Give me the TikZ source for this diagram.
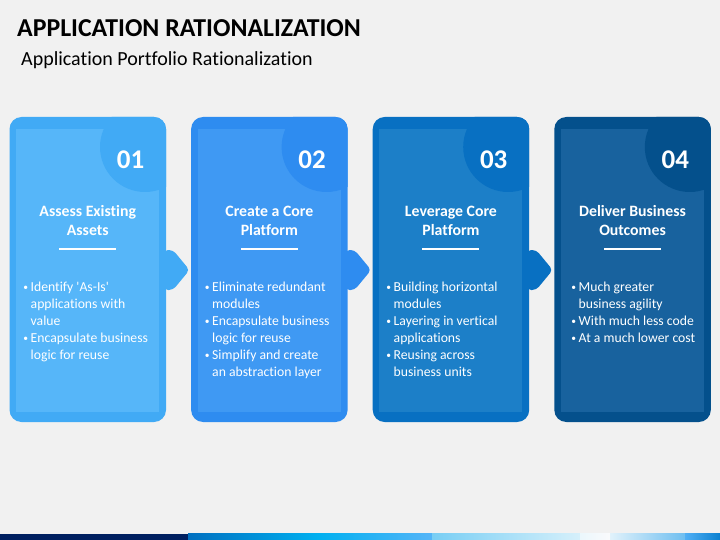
\documentclass[tikz,border=0pt]{standalone}
\usepackage{fontspec}
\setmainfont{Carlito}[Ligatures={TeX,NoCommon}]
\definecolor{bg}{HTML}{F1F1F1}
\definecolor{oA}{RGB}{65,170,245}\definecolor{iA}{RGB}{86,182,249}
\definecolor{oB}{RGB}{46,140,240}\definecolor{iB}{RGB}{63,153,243}
\definecolor{oC}{RGB}{8,112,194}\definecolor{iC}{RGB}{28,127,200}
\definecolor{oD}{RGB}{4,80,140}\definecolor{iD}{RGB}{24,98,158}
\definecolor{navy}{HTML}{002060}
\newcommand{\bu}{\llap{\raisebox{0.8pt}{\fontsize{9.5}{9.5}\selectfont\textbullet}\hspace{2.5pt}}}
\tikzset{
  numtext/.style={text=white,font=\bfseries\fontsize{27}{27}\selectfont,inner sep=0pt},
  headtext/.style={text=white,font=\bfseries\fontsize{15.8}{19}\selectfont,align=center,inner sep=0pt},
  bodytext/.style={text=white,font=\fontsize{13.7}{17}\selectfont,align=left,inner sep=0pt,anchor=north west},
  rule/.style={white,line width=1.4pt}
}
\begin{document}
\begin{tikzpicture}[x=1pt,y=-1pt]
\useasboundingbox (0,0) rectangle (720,540);
\fill[bg] (0,0) rectangle (720,540);
% title
\node[anchor=base west,inner sep=0pt,font=\bfseries\fontsize{25.8}{26}\selectfont] (title) at (17,37) {APPLICATION RATIONALIZATION};
\node[anchor=base west,inner sep=0pt,font=\fontsize{20}{22}\selectfont] (subtitle) at (21,66) {Application Portfolio Rationalization};
% cards
\foreach \i/\o/\n in {0/oA/iA,1/oB/iB,2/oC/iC,3/oD/iD}{
  \pgfmathsetmacro{\L}{9.5+181.6*\i}
  \pgfmathsetmacro{\R}{\L+156.5}
  \fill[\o,rounded corners=12pt] (\L,117) rectangle (\R,422);
  \fill[\n] (\L+6.7,129) rectangle (\R-7,412);
  \begin{scope}
    \clip[rounded corners=12pt] (\L,117) rectangle (\R,422);
    \fill[\o] (\R-21,147) circle (45);
  \end{scope}
  \ifnum\i<3
    \fill[\o,rounded corners=4pt] (\R-2,250) -- (\R+7,250) -- (\R+23.5,270) -- (\R+7,290) -- (\R-2,290) -- cycle;
  \fi
  \draw[rule] (\L+78.25-28.5,249) -- (\L+78.25+28.5,249);
}
% numbers
\node[numtext] (n1) at (130.5,160) {01};
\node[numtext] (n2) at (312.1,160) {02};
\node[numtext] (n3) at (493.7,160) {03};
\node[numtext] (n4) at (675.3,160) {04};
% headings
\node[headtext] (h1) at (87.75,221) {Assess Existing\\Assets};
\node[headtext] (h2) at (269.35,221) {Create a Core\\Platform};
\node[headtext] (h3) at (450.95,221) {Leverage Core\\Platform};
\node[headtext] (h4) at (632.55,221) {Deliver Business\\Outcomes};
% bodies
\node[bodytext] (b1) at (30.5,281.5) {\bu Identify \textquotesingle As-Is\textquotesingle\\applications with\\value\\\bu Encapsulate business\\logic for reuse};
\node[bodytext] (b2) at (212,281.5) {\bu Eliminate redundant\\modules\\\bu Encapsulate business\\logic for reuse\\\bu Simplify and create\\an abstraction layer};
\node[bodytext] (b3) at (393.5,281.5) {\bu Building horizontal\\modules\\\bu Layering in vertical\\applications\\\bu Reusing across\\business units};
\node[bodytext] (b4) at (578.5,281.5) {\bu Much greater\\business agility\\\bu With much less code\\\bu At a much lower cost};
% bottom bar
\fill[navy] (0,533.5) rectangle (188,540);
\shade[left color={rgb,255:red,0;green,112;blue,192},right color={rgb,255:red,0;green,176;blue,240}] (188,533.5) rectangle (318,540);
\shade[left color={rgb,255:red,0;green,176;blue,240},right color={rgb,255:red,85;green,181;blue,248}] (318,533.5) rectangle (432,540);
\shade[left color={rgb,255:red,120;green,206;blue,244},right color={rgb,255:red,214;green,240;blue,251}] (432,533.5) rectangle (580,540);
\shade[left color={rgb,255:red,235;green,247;blue,252},right color={rgb,255:red,250;green,250;blue,252}] (580,533.5) rectangle (610,540);
\shade[left color={rgb,255:red,225;green,242;blue,251},right color={rgb,255:red,110;green,190;blue,240}] (610,533.5) rectangle (685,540);
\shade[left color={rgb,255:red,80;green,175;blue,245},right color={rgb,255:red,10;green,128;blue,208}] (685,533.5) rectangle (720,540);
\end{tikzpicture}
\end{document}
